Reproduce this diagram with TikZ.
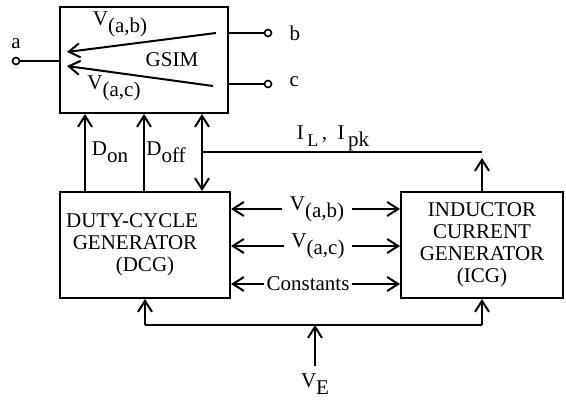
\documentclass[tikz,border=0pt]{standalone}
\usepackage{fontspec}
\setmainfont{Liberation Serif}
\usetikzlibrary{arrows.meta}
\newcommand\lowsub[1]{\raisebox{-0.75ex}{#1}}
\begin{document}
\begin{tikzpicture}[x=0.5pt, y=-0.5pt, line width=1pt,
    >={Straight Barb[length=5.5pt,width=7pt]},
    blk/.style={draw, minimum height=53pt, align=center, inner sep=0pt},
    term/.style={circle, draw, line width=0.8pt, minimum size=3.5pt, inner sep=0pt},
    every node/.style={font=\fontsize{10.5}{11}\selectfont}]
    \useasboundingbox (0,0) rectangle (566,400);
    % blocks
    \node [blk, minimum width=84pt] (gsim) at (144,60) {};
    \node (gsimlbl) at (172,60) {GSIM};
    \node [blk, minimum width=85pt] (dcg) at (145,245) {\hspace*{-13pt}DUTY-CYCLE\\\hspace*{-10pt}GENERATOR\\(DCG)};
    \node [blk, minimum width=81pt] (icg) at (482,245) {INDUCTOR\\CURRENT\\GENERATOR\\(ICG)};
    % terminals
    \node [term] (ta) at (16,61) {};
    \node [term] (tb) at (268,33) {};
    \node [term] (tc) at (268,84) {};
    \node [anchor=south] (alab) at (ta.north) {a};
    \node [anchor=west] (blab) at (282,33) {b};
    \node [anchor=west] (clab) at (282,82) {c};
    \draw (ta) -- (ta -| gsim.west);
    \draw (gsim.east |- tb) -- (tb);
    \draw (gsim.east |- tc) -- (tc);
    % inside GSIM
    \coordinate (abin) at (216,33);
    \coordinate (about) at (67,52);
    \coordinate (acin) at (213,86);
    \coordinate (acout) at (67,66);
    \draw [->] (abin) -- (about);
    \draw [->] (acin) -- (acout);
    \node (vab) at (120,24) {V\lowsub{(a,b)}};
    \node (vac) at (114,88) {V\lowsub{(a,c)}};
    % duty cycles
    \coordinate (don) at ([xshift=13pt]dcg.north west);
    \draw [->] (don) -- (don |- gsim.south);
    \draw [->] (gsim.south |- dcg.north) -- (gsim.south);
    \node (donlbl) at (110,152) {D\lowsub{on}};
    \node (dofflbl) at (166,152) {D\lowsub{off}};
    % currents
    \coordinate (ds) at ([xshift=-13.5pt]gsim.south east);
    \draw [<->] (ds) -- (ds |- dcg.north);
    \coordinate (ilj) at (201,152);
    \draw (ilj) -- (ilj -| icg.north);
    \draw [->] (icg.north) -- ([yshift=-3pt]ilj -| icg.north);
    \node (ilbl) at (333,138) {I\,\lowsub{\small L}\,,\ \ I\,\lowsub{pk}};
    % signals between blocks
    \node (vab2) at (317,209) {V\lowsub{(a,b)}};
    \node (vac2) at (318,246) {V\lowsub{(a,c)}};
    \node [inner xsep=1pt] (cst) at (308,284) {Constants\hspace{7pt}};
    \foreach \s in {vab2,vac2,cst} {
        \draw [->] (\s) -- (\s -| dcg.east);
        \draw [->] (\s) -- (\s -| icg.west);
    }
    % supply
    \coordinate (bus) at (315,325);
    \node (velbl) at (315,384) {V\lowsub{E}};
    \draw [->] (velbl) -- (bus);
    \draw [->] (dcg.south |- bus) -- (dcg.south);
    \draw [->] (icg.south |- bus) -- (icg.south);
    \draw (dcg.south |- bus) -- (icg.south |- bus);
\end{tikzpicture}
\end{document}
